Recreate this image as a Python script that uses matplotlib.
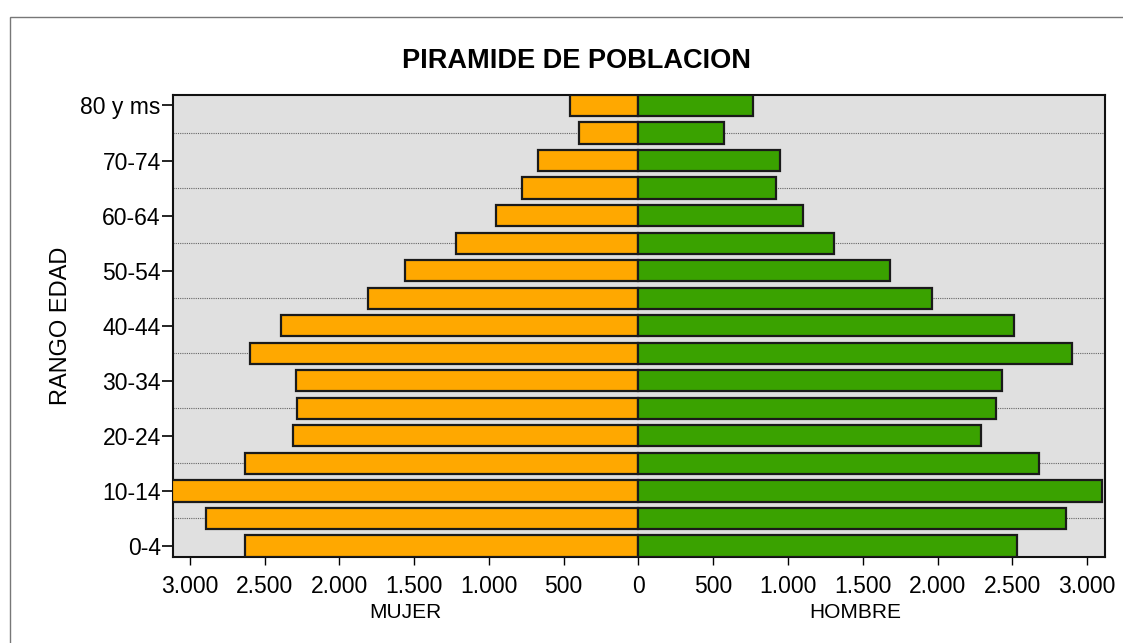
import numpy as np
import matplotlib
matplotlib.use('Agg')
import matplotlib.pyplot as plt
from matplotlib.patches import Rectangle
from matplotlib.ticker import FixedLocator, FuncFormatter

# rangos de edad (de abajo hacia arriba)
categories = ['0-4', '5-9', '10-14', '15-19', '20-24', '25-29', '30-34', '35-39',
              '40-44', '45-49', '50-54', '55-59', '60-64', '65-69', '70-74',
              '75-79', '80 y ms']
mujer = [2630, 2890, 3120, 2630, 2310, 2280, 2290, 2600, 2390,
         1810, 1560, 1220, 950, 780, 670, 400, 455]
hombre = [2530, 2860, 3100, 2680, 2290, 2390, 2430, 2900, 2510,
          1960, 1680, 1310, 1100, 920, 950, 570, 765]
x_ticks = [-3000, -2500, -2000, -1500, -1000, -500, 0, 500, 1000, 1500, 2000, 2500, 3000]

plt.rcParams['font.family'] = ['Liberation Sans', 'DejaVu Sans']

fig = plt.figure(figsize=(11.23, 6.43), dpi=100)
ax = fig.add_axes([0.1543, 0.1342, 0.8297, 0.7185])

y = np.arange(len(categories))
ax.barh(y, -np.array(mujer), height=0.77, color='#FFA800', edgecolor='#1a1a1a', linewidth=1.6, zorder=3)
ax.barh(y, hombre, height=0.77, color='#3AA200', edgecolor='#1a1a1a', linewidth=1.6, zorder=3)

ax.set_facecolor('#E0E0E0')
ax.set_xlim(-3110, 3120)
ax.set_ylim(-0.39, len(categories) - 1 + 0.39)

ax.set_yticks(y[::2])
ax.set_yticklabels(categories[::2])
ax.yaxis.set_minor_locator(FixedLocator(y[1::2]))
ax.yaxis.grid(True, which='minor', linestyle=(0, (1, 1)), color='#666666', linewidth=0.8)
ax.tick_params(axis='y', which='minor', length=0)
ax.set_axisbelow(True)

ax.set_xticks(x_ticks)
ax.xaxis.set_major_formatter(FuncFormatter(lambda v, p: f'{abs(int(v)):,}'.replace(',', '.')))
ax.tick_params(axis='x', which='major', length=6, width=1, pad=7, labelsize=16.5)
ax.tick_params(axis='y', which='major', length=8, width=1.2, pad=1, labelsize=16.5)

for s in ax.spines.values():
    s.set_linewidth(1.5)
    s.set_color('#111111')

ax.set_ylabel('RANGO EDAD', fontsize=17, labelpad=6)
ax.text(0.249, -0.12, 'MUJER', transform=ax.transAxes, ha='center', va='center', fontsize=15)
ax.text(0.732, -0.12, 'HOMBRE', transform=ax.transAxes, ha='center', va='center', fontsize=15)

fig.text(577 / 1123, 1 - 61 / 643, 'PIRAMIDE DE POBLACION', ha='center', va='center',
         fontsize=19.5, fontweight='bold')

# marco exterior
fig.add_artist(Rectangle((10 / 1123, -0.1), 1.2, 1.0743, transform=fig.transFigure,
                         fill=False, edgecolor='#777777', linewidth=1))

fig.savefig('out.png', dpi=100)
